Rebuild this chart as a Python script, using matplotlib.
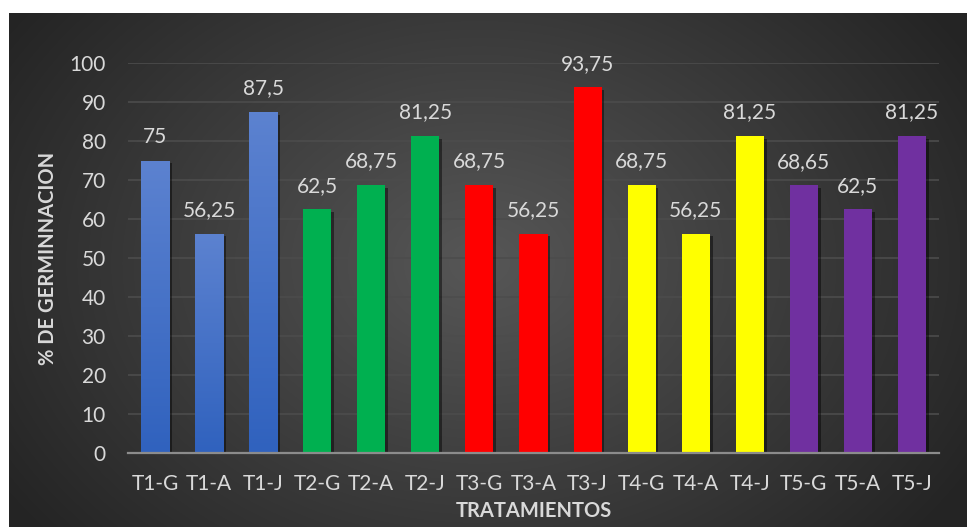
import matplotlib
matplotlib.use('Agg')
import matplotlib.pyplot as plt
import matplotlib.patheffects as pe
import numpy as np

plt.rcParams['font.family'] = ['Lato', 'DejaVu Sans']

tratamientos = ['T1-G', 'T1-A', 'T1-J', 'T2-G', 'T2-A', 'T2-J', 'T3-G', 'T3-A',
                'T3-J', 'T4-G', 'T4-A', 'T4-J', 'T5-G', 'T5-A', 'T5-J']
germinacion = [75, 56.25, 87.5, 62.5, 68.75, 81.25, 68.75, 56.25,
               93.75, 68.75, 56.25, 81.25, 68.65, 62.5, 81.25]
etiquetas = ['75', '56,25', '87,5', '62,5', '68,75', '81,25', '68,75', '56,25',
             '93,75', '68,75', '56,25', '81,25', '68,65', '62,5', '81,25']
colores = ['#4a74c9'] * 3 + ['#00b050'] * 3 + ['#ff0000'] * 3 + \
          ['#ffff00'] * 3 + ['#7030a0'] * 3

txt = '#d9d9d9'

fig = plt.figure(figsize=(9.67, 5.27), dpi=100, facecolor='white')

# dark radial background
bg = fig.add_axes([9 / 967, 0, 958 / 967, 514 / 527])
bg.set_axis_off()
yy, xx = np.mgrid[0:514, 0:958]
r = np.sqrt(((xx - 470) / 560.0) ** 2 + ((yy - 250) / 420.0) ** 2)
r = np.clip(r, 0, 1)
shade = 0.34 - 0.195 * r
img = np.dstack([shade, shade, shade])
bg.imshow(img, aspect='auto', extent=[0, 1, 0, 1], interpolation='bilinear')
bg.set_xlim(0, 1)
bg.set_ylim(0, 1)

ax = fig.add_axes([128 / 967, 1 - 453 / 527, 811 / 967, 390 / 527])
ax.patch.set_alpha(0)
x = np.arange(len(tratamientos))
bars = ax.bar(x, germinacion, width=0.52, color=colores, zorder=3,
              path_effects=[pe.SimplePatchShadow(offset=(2, -2), alpha=0.45,
                                                 shadow_rgbFace='black'),
                            pe.Normal()])

# slight vertical gradient on the blue bars
for b, c in zip(bars, colores):
    if c == '#4a74c9':
        grad = np.linspace(0, 1, 100).reshape(-1, 1)
        top = np.array([0x5c, 0x82, 0xd0]) / 255
        bot = np.array([0x30, 0x62, 0xbe]) / 255
        g = bot + (top - bot) * grad
        im = ax.imshow(g.reshape(100, 1, 3), aspect='auto', origin='lower',
                       extent=[b.get_x(), b.get_x() + b.get_width(), 0, b.get_height()],
                       zorder=4)
        im.set_clip_path(b)

for xi, v, lab in zip(x, germinacion, etiquetas):
    ax.text(xi, v + 3.5, lab, ha='center', va='bottom', color=txt,
            fontsize=15, clip_on=False)

ax.set_xlim(-0.5, len(tratamientos) - 0.5)
ax.set_ylim(0, 100)
ax.set_yticks(range(0, 101, 10))
ax.yaxis.grid(True, color='#4c4c4c', lw=1.2, zorder=0)
ax.set_axisbelow(True)
for s in ['top', 'right', 'left']:
    ax.spines[s].set_visible(False)
ax.spines['bottom'].set_color('#8c8c8c')
ax.spines['bottom'].set_linewidth(1.6)
ax.spines['bottom'].set_zorder(5)
ax.set_xticks(x)
ax.set_xticklabels(tratamientos)
ax.tick_params(axis='both', length=0, colors=txt, labelsize=15)
ax.tick_params(axis='y', pad=16)
ax.tick_params(axis='x', pad=15)

ax.set_ylabel('% DE GERMINNACION', color=txt, fontsize=14.5,
              fontweight='bold', labelpad=8)
ax.set_xlabel('TRATAMIENTOS', color=txt, fontsize=14.5, fontweight='bold',
              labelpad=5)

fig.savefig('out.png', dpi=100, facecolor='white')
